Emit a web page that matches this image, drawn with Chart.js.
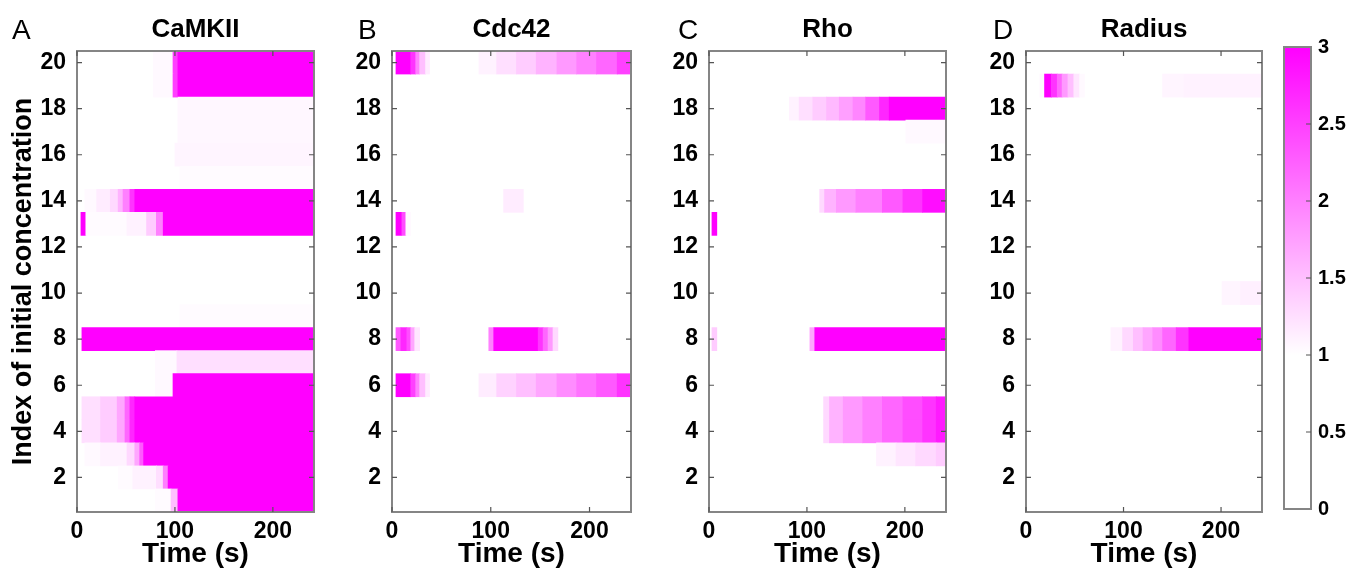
<!DOCTYPE html>
<html>
<head>
<meta charset="utf-8">
<title>Heat maps of CaMKII, Cdc42, Rho and Radius</title>
<script src="https://cdn.jsdelivr.net/npm/chart.js@4.4.1/dist/chart.umd.min.js"></script>
<style>
  body { margin: 0; background: #fff; }
  #fig { position: relative; width: 1352px; height: 572px; overflow: hidden; background: #fff;
         font-family: "Liberation Sans", Arial, Helvetica, sans-serif; }
  #fig canvas { position: absolute; top: 0; }
  .letter { position: absolute; top: 16px; font-size: 28px; line-height: 28px; color: #000; }
</style>
</head>
<body>
<div id="fig">
  <canvas id="camkiiChart" width="330" height="572" style="left:0px"></canvas>
  <canvas id="cdc42Chart" width="320" height="572" style="left:330px"></canvas>
  <canvas id="rhoChart" width="320" height="572" style="left:650px"></canvas>
  <canvas id="radiusChart" width="300" height="572" style="left:970px"></canvas>
  <canvas id="colorbarChart" width="82" height="572" style="left:1270px"></canvas>
  <div class="letter" style="left:12px">A</div>
  <div class="letter" style="left:358px">B</div>
  <div class="letter" style="left:678px">C</div>
  <div class="letter" style="left:993px">D</div>
</div>
<script>
const panelNames = ['CaMKII', 'Cdc42', 'Rho', 'Radius'];
const rows = [1, 2, 3, 4, 5, 6, 7, 8, 9, 10, 11, 12, 13, 14, 15, 16, 17, 18, 19, 20];
const yTickLabels = [2, 4, 6, 8, 10, 12, 14, 16, 18, 20];
const timeTicks = [0, 100, 200];
const timeMax = 242;
const colorbarTicks = [0, 0.5, 1, 1.5, 2, 2.5, 3];

// [row, start (s), end (s), value]; anything not listed is white
const camkiiCells = [
  [20, 78, 98, 1.05], [20, 98, 103, 2.5], [20, 103, 242, 3],
  [19, 78, 98, 1.05], [19, 98, 103, 2.5], [19, 103, 242, 3],
  [18, 103, 242, 1.06], [17, 103, 242, 1.06], [16, 100, 242, 1.08], [15, 105, 242, 1.03],
  [14, 8, 20, 1.05], [14, 20, 34, 1.15], [14, 34, 42, 1.3], [14, 42, 47, 1.6], [14, 47, 54, 2.0], [14, 54, 59, 2.6], [14, 59, 242, 3],
  [13, 4, 9, 3], [13, 9, 51, 1.03], [13, 51, 71, 1.1], [13, 71, 81, 1.4], [13, 81, 88, 2.0], [13, 88, 242, 3],
  [9, 105, 242, 1.03],
  [8, 5, 242, 3],
  [7, 80, 102, 1.05], [7, 102, 242, 1.25],
  [6, 80, 98, 1.05], [6, 98, 242, 3],
  [5, 5, 24, 1.25], [5, 24, 41, 1.4], [5, 41, 49, 1.7], [5, 49, 54, 2.2], [5, 54, 59, 2.7], [5, 59, 242, 3],
  [4, 5, 24, 1.25], [4, 24, 41, 1.4], [4, 41, 49, 1.7], [4, 49, 54, 2.2], [4, 54, 59, 2.7], [4, 59, 242, 3],
  [3, 8, 24, 1.05], [3, 24, 51, 1.1], [3, 51, 59, 1.3], [3, 59, 64, 1.7], [3, 64, 68, 2.3], [3, 68, 242, 3],
  [2, 42, 57, 1.03], [2, 57, 81, 1.1], [2, 81, 88, 1.25], [2, 88, 93, 2.0], [2, 93, 242, 3],
  [1, 80, 96, 1.03], [1, 96, 103, 1.5], [1, 103, 242, 3]
];
const cdc42Cells = [
  [20, 4, 19, 3], [20, 19, 24, 2.6], [20, 24, 28, 2.0], [20, 28, 34, 1.5], [20, 34, 38, 1.15],
  [20, 88, 106, 1.1], [20, 106, 126, 1.25], [20, 126, 146, 1.4], [20, 146, 167, 1.6], [20, 167, 187, 1.8], [20, 187, 207, 2.0], [20, 207, 228, 2.2], [20, 228, 242, 2.5],
  [14, 113, 133, 1.15],
  [13, 4, 10, 3], [13, 10, 14, 2.4], [13, 14, 19, 1.05],
  [8, 4, 9, 2.3], [8, 9, 15, 2.7], [8, 15, 19, 2.4], [8, 19, 23, 1.7], [8, 23, 28, 1.2],
  [8, 98, 103, 2.0], [8, 103, 148, 3], [8, 148, 153, 2.6], [8, 153, 158, 2.2], [8, 158, 163, 1.8], [8, 163, 168, 1.3],
  [6, 4, 19, 3], [6, 19, 24, 2.5], [6, 24, 28, 2.0], [6, 28, 34, 1.5], [6, 34, 38, 1.15],
  [6, 88, 106, 1.15], [6, 106, 126, 1.35], [6, 126, 146, 1.5], [6, 146, 167, 1.7], [6, 167, 187, 1.9], [6, 187, 207, 2.1], [6, 207, 228, 2.3], [6, 228, 242, 2.6]
];
const rhoCells = [
  [18, 82, 92, 1.1], [18, 92, 106, 1.25], [18, 106, 120, 1.4], [18, 120, 133, 1.55], [18, 133, 147, 1.75], [18, 147, 160, 1.95], [18, 160, 174, 2.3], [18, 174, 184, 2.7], [18, 184, 242, 3],
  [17, 201, 242, 1.05],
  [14, 113, 118, 1.3], [14, 118, 130, 1.6], [14, 130, 150, 1.8], [14, 150, 177, 2.0], [14, 177, 198, 2.3], [14, 198, 218, 2.6], [14, 218, 242, 2.9],
  [13, 3, 8, 3],
  [8, 3, 8, 1.4], [8, 103, 108, 1.7], [8, 108, 242, 3],
  [5, 117, 123, 1.3], [5, 123, 137, 1.6], [5, 137, 157, 1.8], [5, 157, 177, 2.0], [5, 177, 198, 2.2], [5, 198, 218, 2.4], [5, 218, 232, 2.6], [5, 232, 242, 2.8],
  [4, 117, 123, 1.3], [4, 123, 137, 1.6], [4, 137, 157, 1.8], [4, 157, 177, 2.0], [4, 177, 198, 2.2], [4, 198, 218, 2.4], [4, 218, 232, 2.6], [4, 232, 242, 2.8],
  [3, 171, 191, 1.1], [3, 191, 211, 1.2], [3, 211, 232, 1.3], [3, 232, 242, 1.4]
];
const radiusCells = [
  [19, 14, 19, 1.05], [19, 19, 26, 3], [19, 26, 32, 2.6], [19, 32, 37, 2.2], [19, 37, 43, 1.8], [19, 43, 49, 1.5], [19, 49, 55, 1.2], [19, 55, 60, 1.05],
  [19, 140, 162, 1.08], [19, 162, 242, 1.1],
  [10, 201, 220, 1.08], [10, 220, 242, 1.12],
  [8, 87, 99, 1.1], [8, 99, 110, 1.3], [8, 110, 120, 1.5], [8, 120, 130, 1.7], [8, 130, 140, 1.9], [8, 140, 154, 2.2], [8, 154, 167, 2.6], [8, 167, 242, 3]
];

Chart.defaults.font.family = '"Liberation Sans", Arial, Helvetica, sans-serif';
Chart.defaults.color = '#000';

// white up to 1, then linear to magenta at 3
function heatColor(v) {
  const f = Math.min(1, Math.max(0, (v - 1) / 2));
  const g = Math.round(255 * (1 - f));
  return 'rgb(255,' + g + ',255)';
}

// grey box round the plot area with short inward ticks
const framePlugin = {
  id: 'frame',
  afterDraw(chart, args, opts) {
    const { ctx, chartArea: a } = chart;
    ctx.save();
    ctx.strokeStyle = '#858585';
    ctx.lineWidth = 2;
    ctx.strokeRect(a.left, a.top, a.right - a.left, a.bottom - a.top);
    ctx.strokeStyle = '#555';
    ctx.lineWidth = 1.2;
    ctx.beginPath();
    (opts.xTicks || []).forEach(v => {
      const px = chart.scales.x.getPixelForValue(v);
      ctx.moveTo(px, a.top); ctx.lineTo(px, a.top + 5);
      ctx.moveTo(px, a.bottom); ctx.lineTo(px, a.bottom - 5);
    });
    (opts.yTicks || []).forEach(v => {
      const py = chart.scales.y.getPixelForValue(v);
      if (opts.left) { ctx.moveTo(a.left, py); ctx.lineTo(a.left + 5, py); }
      ctx.moveTo(a.right, py); ctx.lineTo(a.right - 5, py);
    });
    ctx.stroke();
    ctx.restore();
  }
};

function heatmap(id, name, cells, yWidth, padRight, showYTitle) {
  return new Chart(document.getElementById(id), {
    type: 'bar',
    data: {
      datasets: [{
        data: cells.map(c => ({ y: c[0], x: [c[1], c[2]], v: c[3] })),
        backgroundColor: ctx => ctx.raw ? heatColor(ctx.raw.v) : '#fff',
        borderWidth: 0,
        categoryPercentage: 1,
        barPercentage: 1
      }]
    },
    options: {
      indexAxis: 'y',
      responsive: false,
      animation: false,
      devicePixelRatio: 1,
      layout: { padding: { left: 0, right: padRight, top: 14, bottom: 0 } },
      plugins: {
        legend: { display: false },
        tooltip: { enabled: false },
        title: {
          display: true, text: name, fullSize: false,
          font: { size: 26, weight: 'bold' }, color: '#000',
          padding: { top: 0, bottom: 5.8 }
        },
        frame: { xTicks: timeTicks, yTicks: yTickLabels, left: true }
      },
      scales: {
        x: {
          type: 'linear', min: 0, max: timeMax, offset: false,
          grid: { display: false, drawTicks: false }, border: { display: false },
          afterBuildTicks: s => { s.ticks = timeTicks.map(v => ({ value: v })); },
          ticks: { font: { size: 23, weight: 'bold' }, padding: 6, maxRotation: 0 },
          title: { display: true, text: 'Time (s)', font: { size: 28, weight: 'bold' }, padding: { top: 0, bottom: 1 } },
          afterFit: s => { s.height = 60; }
        },
        y: {
          type: 'linear', min: 0.5, max: 20.5, offset: false,
          grid: { display: false, offset: false, drawTicks: false }, border: { display: false },
          afterBuildTicks: s => { s.ticks = rows.map(v => ({ value: v })); },
          ticks: {
            autoSkip: false, padding: 11, font: { size: 23, weight: 'bold' },
            callback: v => yTickLabels.includes(v) ? String(v) : ''
          },
          title: {
            display: showYTitle, text: 'Index of initial concentration',
            font: { size: 27, weight: 'bold' }, padding: { top: 7, bottom: 0 }
          },
          afterFit: s => { s.width = yWidth; }
        }
      }
    },
    plugins: [framePlugin]
  });
}

heatmap('camkiiChart', panelNames[0], camkiiCells, 77, 16, true);
heatmap('cdc42Chart', panelNames[1], cdc42Cells, 62, 19, false);
heatmap('rhoChart', panelNames[2], rhoCells, 59, 24, false);
heatmap('radiusChart', panelNames[3], radiusCells, 56, 8, false);

// colour bar: one bar 0..3 filled with the colour map
const cbMax = colorbarTicks[colorbarTicks.length - 1];
new Chart(document.getElementById('colorbarChart'), {
  type: 'bar',
  data: {
    labels: [''],
    datasets: [{
      data: [[0, cbMax]],
      backgroundColor: ctx => {
        const c = ctx.chart;
        if (!c.chartArea) return '#fff';
        const y = c.scales.y;
        const g = c.ctx.createLinearGradient(0, y.getPixelForValue(0), 0, y.getPixelForValue(cbMax));
        g.addColorStop(0, heatColor(0));
        g.addColorStop(1 / cbMax, heatColor(1));
        g.addColorStop(1, heatColor(cbMax));
        return g;
      },
      borderWidth: 0,
      categoryPercentage: 1,
      barPercentage: 1
    }]
  },
  options: {
    responsive: false,
    animation: false,
    devicePixelRatio: 1,
    layout: { padding: { left: 14, right: 0, top: 47, bottom: 63 } },
    plugins: {
      legend: { display: false },
      tooltip: { enabled: false },
      frame: { yTicks: colorbarTicks.slice(1, -1), left: false }
    },
    scales: {
      x: { display: false },
      y: {
        position: 'right', min: 0, max: cbMax,
        grid: { display: false, drawTicks: false }, border: { display: false },
        afterBuildTicks: s => { s.ticks = colorbarTicks.map(v => ({ value: v })); },
        ticks: { padding: 7, font: { size: 20, weight: 'bold' }, callback: v => String(v) },
        afterFit: s => { s.width = 41; }
      }
    }
  },
  plugins: [framePlugin]
});
</script>
</body>
</html>
